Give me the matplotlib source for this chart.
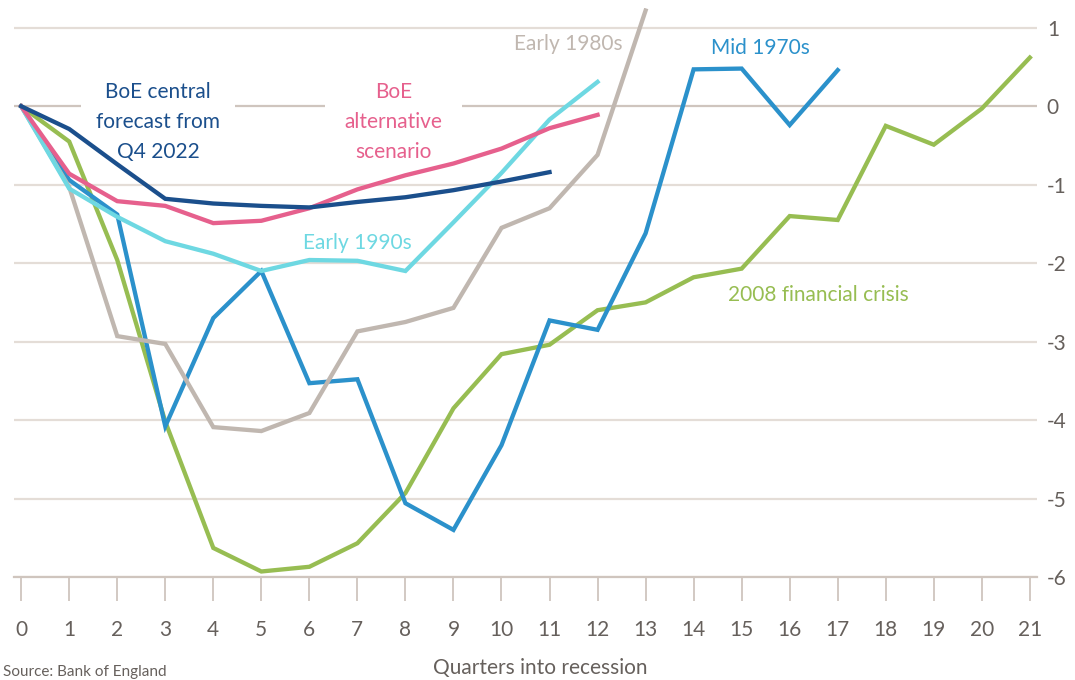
import numpy as np
import matplotlib.pyplot as plt

plt.rcParams['font.family'] = ['Lato', 'DejaVu Sans']
plt.rcParams['axes.unicode_minus'] = False

# values, % change in GDP from pre-recession peak
boe_central = [0, -0.29, -0.74, -1.18, -1.24, -1.27, -1.29, -1.22, -1.16, -1.07, -0.96, -0.84]
boe_alt = [0, -0.86, -1.21, -1.27, -1.49, -1.46, -1.30, -1.06, -0.88, -0.73, -0.54, -0.28, -0.11]
early_1990s = [0, -1.05, -1.41, -1.72, -1.88, -2.10, -1.96, -1.97, -2.10, -1.48, -0.85, -0.17, 0.31]
early_1980s = [0, -1.03, -2.93, -3.03, -4.09, -4.14, -3.91, -2.87, -2.75, -2.57, -1.55, -1.30, -0.62, 1.22]
mid_1970s = [0, -0.94, -1.38, -4.08, -2.70, -2.10, -3.53, -3.48, -5.06, -5.40, -4.32, -2.73, -2.85, -1.62,
             0.47, 0.48, -0.24, 0.46]
crisis_2008 = [0, -0.45, -1.96, -4.02, -5.63, -5.93, -5.87, -5.57, -4.93, -3.85, -3.16, -3.04, -2.60, -2.50,
               -2.18, -2.07, -1.40, -1.45, -0.25, -0.49, -0.03, 0.62]

quarters = np.arange(0, 22)
yticks = [1, 0, -1, -2, -3, -4, -5, -6]

NAVY = '#1b4f8c'
PINK = '#e6608d'
CYAN = '#6ed8e2'
GREY = '#c0b7b0'
BLUE = '#2b91cb'
GREEN = '#97bd52'
GRID = '#e4ddd7'
TEXT = '#66605c'

fig = plt.figure(figsize=(10.75, 6.8), dpi=100)
ax = fig.add_axes([0.013, 0.1515, 0.9517, 0.8365])

for v in yticks:
    ax.axhline(v, color='#cfc5be' if v == 0 else GRID, lw=1.6, zorder=1)

lw = 3.1
series = [
    (crisis_2008, GREEN),
    (mid_1970s, BLUE),
    (early_1980s, GREY),
    (early_1990s, CYAN),
    (boe_alt, PINK),
    (boe_central, NAVY),
]
for vals, col in series:
    ax.plot(quarters[:len(vals)], vals, color=col, lw=lw, solid_joinstyle='miter', zorder=3)

label_kw = dict(fontsize=15, ha='center', va='center', linespacing=1.62)
ax.text(2.85, -0.20, 'BoE central\nforecast from\nQ4 2022', color=NAVY, zorder=2,
        bbox=dict(facecolor='white', edgecolor='none', pad=11), **label_kw)
ax.text(7.75, -0.20, 'BoE\nalternative\nscenario', color=PINK, zorder=2,
        bbox=dict(facecolor='white', edgecolor='none', pad=14), **label_kw)
ax.text(7.0, -1.74, 'Early 1990s', color=CYAN, fontsize=15, ha='center', va='center', zorder=4)
ax.text(11.4, 0.79, 'Early 1980s', color=GREY, fontsize=15, ha='center', va='center', zorder=4)
ax.text(15.4, 0.74, 'Mid 1970s', color=BLUE, fontsize=15, ha='center', va='center', zorder=4)
ax.text(16.6, -2.41, '2008 financial crisis', color=GREEN, fontsize=15, ha='center', va='center', zorder=4)

ax.set_xlim(-0.15, 21.15)
ax.set_ylim(-6, 1.25)
ax.set_xticks(quarters)
ax.set_yticks(yticks)
ax.yaxis.tick_right()
ax.tick_params(axis='y', length=0, pad=7, labelsize=15, labelcolor=TEXT)
ax.tick_params(axis='x', length=17, width=1.3, color='#cfc5be', direction='out',
               pad=14, labelsize=15, labelcolor=TEXT)
for s in ['top', 'left', 'right']:
    ax.spines[s].set_visible(False)
ax.spines['bottom'].set_color('#cfc5be')
ax.spines['bottom'].set_linewidth(1.6)
ax.spines['bottom'].set_zorder(1)

fig.text(0.503, 0.018, 'Quarters into recession', color=TEXT, fontsize=15, ha='center', va='center')
fig.text(0.003, 0.002, 'Source: Bank of England', color=TEXT, fontsize=11, ha='left', va='bottom')

fig.savefig('out.png', dpi=100, facecolor='white')
